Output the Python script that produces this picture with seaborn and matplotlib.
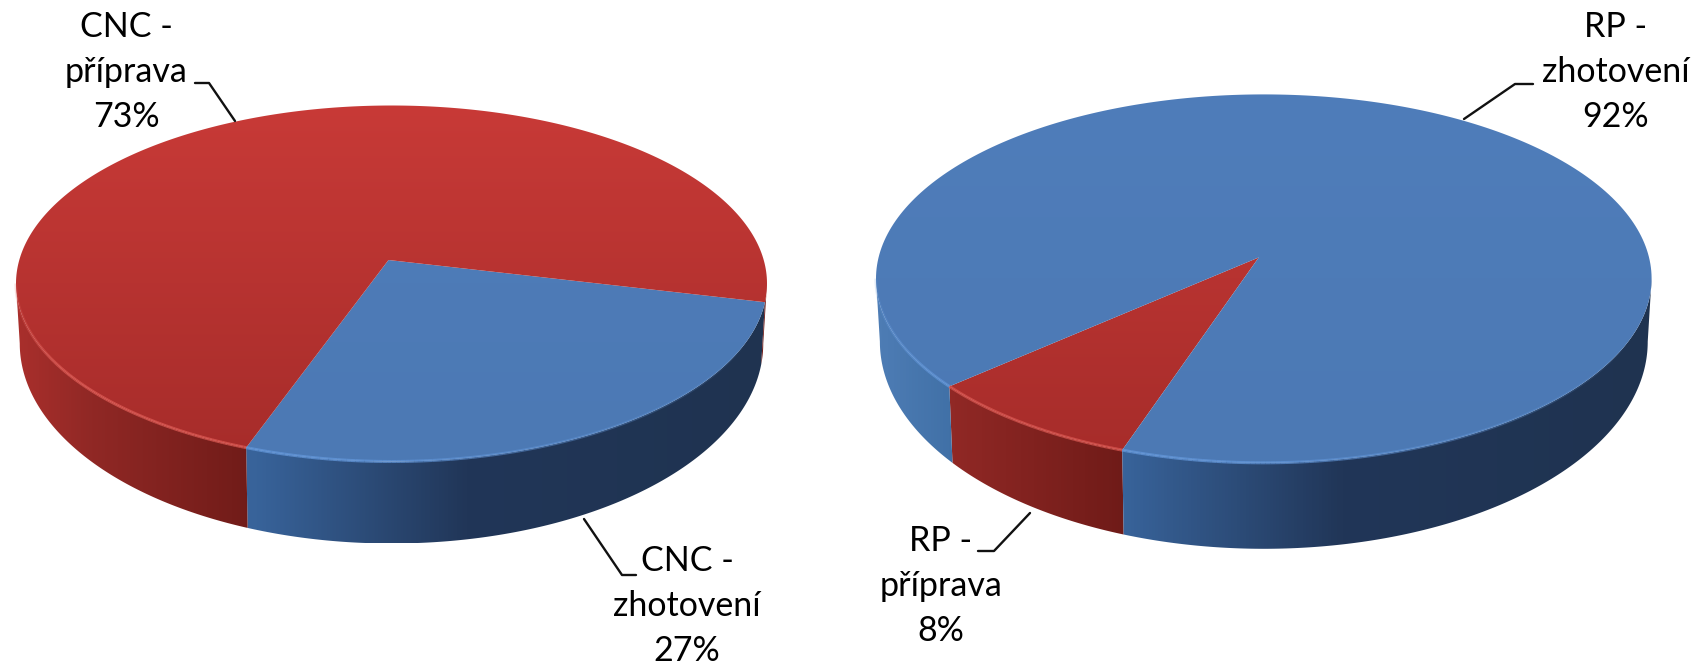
import numpy as np
import matplotlib
matplotlib.use('Agg')
import matplotlib.pyplot as plt
import seaborn as sns
from matplotlib.collections import LineCollection
from matplotlib.colors import LinearSegmentedColormap, to_rgb
from matplotlib.patches import Polygon

# hodnoty z grafu
cnc_labels = ['CNC -\nzhotovení', 'CNC -\npříprava']
cnc_values = [26.8, 73.2]
rp_labels = ['RP -\npříprava', 'RP -\nzhotovení']
rp_values = [8.3, 91.7]

W, H = 1701, 667
RED, BLUE = sns.color_palette(['#C23A36', '#4F7DB9'])

# barvy horni plochy (shora dolu) a boku (zleva doprava)
top_red = ['#C83A37', '#A62C2A']
top_blue = ['#4F7DBA', '#4C79B4']
side_red = [(0, '#A92F2C'), (0.1, '#902825'), (0.32, '#6F1B18'), (1, '#6F1B18')]
side_blue = [(0, '#4E7DB5'), (0.1, '#4070A6'), (0.32, '#38639A'), (0.6, '#213658'), (1, '#1F3350')]

sns.set_theme(style='white')
plt.rcParams['font.family'] = ['Lato', 'DejaVu Sans']

fig = plt.figure(figsize=(W / 100, H / 100), dpi=100)
ax = fig.add_axes([0, 0, 1, 1])


def project(theta, g):
    # kruh -> elipsa s perspektivou (stred se posune nahoru)
    t = np.radians(theta)
    X, Y = np.cos(t), np.sin(t)
    d = g['d']
    w = 1 + d * Y
    xp = X * np.sqrt(1 - d ** 2) / w
    yp = (Y + d) / w
    return g['cx'] + g['rx'] * xp, g['cy'] - g['ry'] * yp


def bottom_rim(xt, g):
    # spodni hrana boku je vlastni elipsa, sirsi dolu
    dx = np.clip((xt - g['cx']) / g['rx'], -1, 1)
    yb = g['cy'] + g['edge'] + (g['ry'] + g['depth'] - g['edge']) * np.sqrt(1 - dx ** 2)
    return g['cx'] + (xt - g['cx']) * g['shrink'], yb


def fill_gradient(poly, x0, x1, y0, y1, colors, vertical=False):
    cmap = LinearSegmentedColormap.from_list('g', colors)
    ramp = np.linspace(0, 1, 256)
    ramp = ramp[:, None] if vertical else ramp[None, :]
    patch = Polygon(poly, closed=True, transform=ax.transData, fc='none', ec='none')
    ax.add_patch(patch)
    im = ax.imshow(ramp, cmap=cmap, vmin=0, vmax=1, extent=(x0, x1, y1, y0), aspect='auto', zorder=2)
    im.set_clip_path(patch)


def draw_pie(values, colors, startangle, g):
    # uhly vezmeme primo z ax.pie
    wedges, _ = ax.pie(values, startangle=startangle, colors=colors, radius=1)
    angles = [(w.theta1, w.theta2) for w in wedges]
    for w in wedges:
        w.remove()

    x0, x1 = g['cx'] - g['rx'], g['cx'] + g['rx']
    y0, y1 = g['cy'] - g['ry'], g['cy'] + g['ry']
    vis0 = 180 + np.degrees(np.arcsin(g['d']))
    vis1 = 360 - np.degrees(np.arcsin(g['d']))

    for (a, b), c in zip(angles, colors):
        is_red = c == RED
        # bok
        for shift in (0, 360, -360):
            lo, hi = max(a + shift, vis0), min(b + shift, vis1)
            if hi <= lo:
                continue
            th = np.linspace(lo, hi, 200)
            xt, yt = project(th, g)
            xb, yb = bottom_rim(xt, g)
            poly = np.r_[np.c_[xt, yt], np.c_[xb, yb][::-1]]
            ramp = side_red if is_red else side_blue
            fill_gradient(poly, x0, x1, y0, y1 + g['depth'], ramp)

    for (a, b), c in zip(angles, colors):
        is_red = c == RED
        # horni plocha
        th = np.linspace(a, b, 300)
        xt, yt = project(th, g)
        apex = (g['cx'] + g['apex_dx'], g['cy'] - g['ry'] * g['d'])
        poly = np.r_[[apex], np.c_[xt, yt]]
        fill_gradient(poly, x0, x1, y0, y1, top_red if is_red else top_blue, vertical=True)
        # svetly okraj vpredu, doprava slabne
        for shift in (0, 360, -360):
            lo, hi = max(a + shift, vis0), min(b + shift, vis1)
            if hi <= lo:
                continue
            th = np.linspace(lo, hi, 160)
            xt, yt = project(th, g)
            pts = np.c_[xt, yt]
            segs = np.stack([pts[:-1], pts[1:]], axis=1)
            fade = np.clip((335 - th[:-1]) / 70, 0, 1) * np.clip((th[:-1] - 185) / 30, 0.25, 1)
            rgb = to_rgb('#DE5A54' if is_red else '#6397DA')
            ax.add_collection(LineCollection(segs, colors=[(*rgb, 0.75 * f) for f in fade],
                                             linewidths=2.2, zorder=3))


def draw_label(text, pct, x, y):
    line_h = 45
    for i, s in enumerate(text.split('\n') + [pct]):
        ax.text(x, y + i * line_h, s, ha='center', va='center', fontsize=24.5, color='#000000', zorder=5)


left_geom = dict(cx=391.5, cy=283.5, rx=375.5, ry=178, d=0.132, depth=82, edge=60, shrink=0.99, apex_dx=-3)
right_geom = dict(cx=1263.8, cy=278.6, rx=387.8, ry=184.2, d=0.115, depth=86, edge=63, shrink=0.99, apex_dx=-5)

draw_pie(cnc_values, [BLUE, RED], -110, left_geom)
draw_pie(rp_values, [RED, BLUE], 221, right_geom)

ax.set_aspect('auto')
ax.set_xlim(0, W)
ax.set_ylim(H, 0)
ax.axis('off')

draw_label(cnc_labels[1], f'{round(cnc_values[1])}%', 126, 27)
draw_label(cnc_labels[0], f'{round(cnc_values[0])}%', 687, 561)
draw_label(rp_labels[1], f'{round(rp_values[1])}%', 1616, 27)
draw_label(rp_labels[0], f'{round(rp_values[0])}%', 941, 541)

# vodici cary
leaders = [
    ([195, 209, 235], [83, 83, 121]),
    ([584, 622, 636], [519, 575, 575]),
    ([1533, 1515, 1464], [84, 84, 119]),
    ([1030, 994, 978], [513, 551, 551]),
]
for lx, ly in leaders:
    ax.plot(lx, ly, color='#111111', lw=1.7, zorder=4)

fig.savefig('out.png', dpi=100, facecolor='white')
